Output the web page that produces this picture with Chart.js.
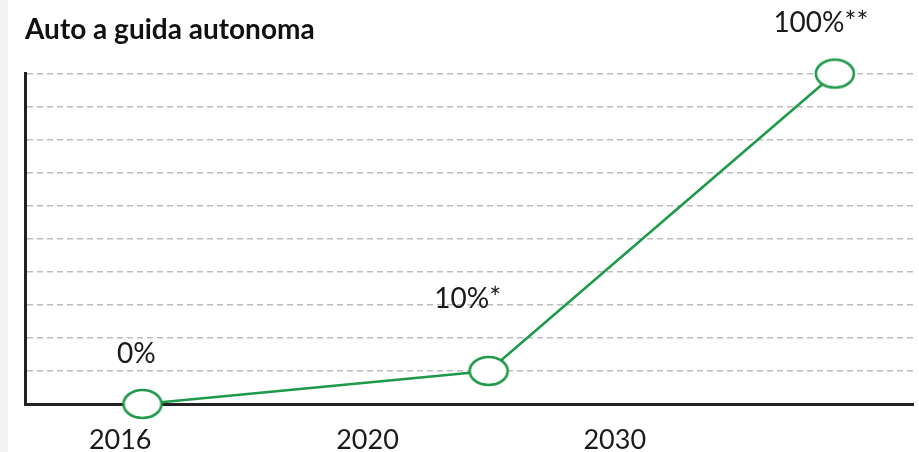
<!DOCTYPE html>
<html lang="it">

<head>
    <meta charset="UTF-8">
    <title>Auto a guida autonoma</title>
    <style>
        body { margin: 0; background: #fff; }
        #cvs { display: block; background: linear-gradient(to right, #f3f3f3 0 8px, #fff 8px); }
    </style>
</head>

<body>
    <canvas id="cvs" width="919" height="452"></canvas>
    <script src="https://cdn.jsdelivr.net/npm/chart.js@4.4.1/dist/chart.umd.min.js"></script>

    <script>
        // x axis labels and where they sit (label slots), points are placed on the same scale
        const tickLabels = ['2016', '2020', '2030'];
        const tickPos = [1, 2, 3];
        const pointPos = [1.09, 2.49, 3.89];
        const shares = [0, 10, 100];
        const pointLabels = ['0%', '10%*', '100%**'];

        const green = '#1f9a4a';

        // ellipse marker
        function ellipseMarker() {
            const c = document.createElement('canvas');
            c.width = 44;
            c.height = 34;
            const g = c.getContext('2d');
            g.beginPath();
            g.ellipse(22, 17, 19, 14, 0, 0, Math.PI * 2);
            g.fillStyle = '#fff';
            g.fill();
            g.lineWidth = 2.6;
            g.strokeStyle = green;
            g.stroke();
            return c;
        }

        const valueLabels = {
            id: 'valueLabels',
            afterDatasetsDraw(chart, args, opts) {
                const ctx = chart.ctx;
                const meta = chart.getDatasetMeta(0);
                ctx.save();
                ctx.font = '28px Lato';
                ctx.fillStyle = '#1a1a1a';
                ctx.textAlign = 'center';
                ctx.textBaseline = 'alphabetic';
                meta.data.forEach((pt, i) => {
                    const off = opts.offsets[i];
                    ctx.fillText(pointLabels[i], pt.x + off[0], pt.y + off[1]);
                });
                ctx.restore();
            }
        };

        const ctx = document.getElementById('cvs').getContext('2d');

        new Chart(ctx, {
            type: 'line',
            data: {
                datasets: [{
                    data: pointPos.map((x, i) => ({ x: x, y: shares[i] })),
                    borderColor: green,
                    borderWidth: 2.6,
                    pointStyle: ellipseMarker(),
                    pointRadius: 17,
                    tension: 0,
                    clip: false
                }]
            },
            options: {
                responsive: false,
                animation: false,
                layout: { autoPadding: false, padding: { left: 25, right: 6, top: 0, bottom: 0 } },
                plugins: {
                    legend: { display: false },
                    tooltip: { enabled: false },
                    title: {
                        display: true,
                        text: 'Auto a guida autonoma',
                        align: 'start',
                        color: '#111',
                        font: { family: 'Lato', size: 28, weight: 'bold' },
                        padding: { top: 13, bottom: 27 }
                    },
                    valueLabels: {
                        offsets: [[-6, -41], [-21, -63], [-14, -42]]
                    }
                },
                scales: {
                    x: {
                        type: 'linear',
                        min: 0.615,
                        max: 4.206,
                        afterBuildTicks: (scale) => {
                            scale.ticks = tickPos.map(v => ({ value: v }));
                        },
                        afterFit: (scale) => {
                            scale.height = 48;
                        },
                        ticks: {
                            callback: (v) => tickLabels[tickPos.indexOf(v)],
                            color: '#1a1a1a',
                            font: { family: 'Lato', size: 27 },
                            padding: 20,
                            maxRotation: 0,
                            autoSkip: false
                        },
                        grid: { display: false, drawTicks: false },
                        border: { display: true, color: '#222', width: 3 }
                    },
                    y: {
                        min: 0,
                        max: 100,
                        ticks: { display: false, stepSize: 10 },
                        grid: {
                            color: '#bdbdbd',
                            lineWidth: 1.5,
                            drawTicks: false
                        },
                        border: { display: true, color: '#222', width: 3, dash: [6, 4] }
                    }
                }
            },
            plugins: [valueLabels]
        });
    </script>
</body>

</html>
